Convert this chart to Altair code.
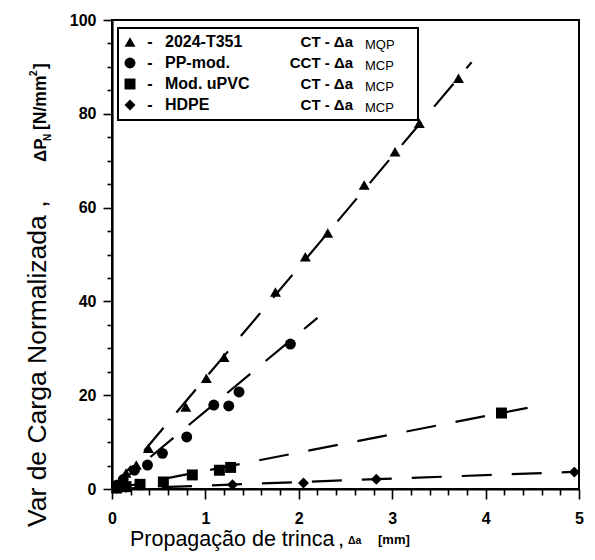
import altair as alt
import pandas as pd

# ---------------- data ----------------
series = ["2024-T351", "PP-mod.", "Mod. uPVC", "HDPE"]
specimen = ["CT - Δa", "CCT - Δa", "CT - Δa", "CT - Δa"]
method = ["MQP", "MCP", "MCP", "MCP"]
shapes = ["triangle-up", "circle", "square", "diamond"]

al_x = [0.05, 0.10, 0.15, 0.26, 0.39, 0.79, 1.01, 1.20, 1.75, 2.07, 2.31, 2.70, 3.03, 3.29, 3.71]
al_y = [1.0, 2.2, 3.4, 5.1, 8.7, 17.5, 23.6, 28.1, 42.0, 49.5, 54.6, 64.8, 71.9, 78.0, 87.6]

pp_x = [0.05, 0.12, 0.24, 0.38, 0.54, 0.80, 1.09, 1.25, 1.36, 1.91]
pp_y = [0.8, 2.0, 4.0, 5.1, 7.6, 11.1, 17.9, 17.7, 20.7, 30.9]

pvc_x = [0.05, 0.15, 0.30, 0.55, 0.86, 1.15, 1.27, 4.17]
pvc_y = [0.2, 0.5, 1.0, 1.5, 3.0, 4.0, 4.6, 16.2]

hd_x = [0.05, 0.15, 0.29, 1.29, 2.05, 2.83, 4.95]
hd_y = [0.1, 0.3, 0.8, 0.9, 1.3, 2.1, 3.6]

fit_end_x = [3.85, 2.20, 4.45, 5.0]
fit_end_y = [91.0, 36.5, 17.3, 3.7]

x_ticks = [round(i * 0.2, 1) for i in range(26)]
y_ticks = list(range(0, 101, 5))

# ---------------- tables ----------------
frames = []
for name, xs, ys in zip(series, [al_x, pp_x, pvc_x, hd_x], [al_y, pp_y, pvc_y, hd_y]):
    frames.append(pd.DataFrame({"x": xs, "y": ys, "s": name}))
pts_df = pd.concat(frames, ignore_index=True)

fit_rows = []
for name, ex, ey in zip(series, fit_end_x, fit_end_y):
    fit_rows.append({"x": 0.0, "y": 0.0, "s": name})
    fit_rows.append({"x": ex, "y": ey, "s": name})
fit_df = pd.DataFrame(fit_rows)

FONT = "Liberation Sans"

xscale = alt.Scale(domain=[0, 5], nice=False, zero=True)
yscale = alt.Scale(domain=[0, 100], nice=False)

is_int_x = "abs(datum.value - round(datum.value)) < 0.001"
x_axis = alt.Axis(
    title=None, values=x_ticks, grid=False,
    labelExpr=f"{is_int_x} ? format(round(datum.value), 'd') : ''",
    labelOverlap=False, labelBound=False, labelFlush=False,
    labelFont=FONT, labelFontSize=16, labelFontWeight="bold", labelColor="black",
    labelPadding=11,
    tickSize={"condition": {"test": is_int_x, "value": 10}, "value": 6},
    tickColor="black", tickWidth=1.6,
    domainColor="black", domainWidth=2.2,
)
is_major_y = "datum.value % 20 === 0"
y_axis = alt.Axis(
    title=None, values=y_ticks, grid=False,
    labelExpr=f"{is_major_y} ? format(datum.value, 'd') : ''",
    labelOverlap=False, labelBound=False, labelFlush=False,
    labelFont=FONT, labelFontSize=16, labelFontWeight="bold", labelColor="black",
    labelPadding=7,
    tickSize={"condition": {"test": is_major_y, "value": 9}, "value": 5},
    tickColor="black", tickWidth=1.6,
    domainColor="black", domainWidth=2.2,
)

shape_scale = alt.Scale(domain=series, range=shapes)

fit = alt.Chart(fit_df).mark_line(
    color="black", strokeWidth=2.2, strokeDash=[30, 20]
).encode(
    x=alt.X("x:Q", scale=xscale, axis=x_axis),
    y=alt.Y("y:Q", scale=yscale, axis=y_axis),
    detail="s:N",
)

pts = alt.Chart(pts_df).mark_point(
    filled=True, color="black", opacity=1, size=120
).encode(
    x=alt.X("x:Q", scale=xscale, axis=x_axis),
    y=alt.Y("y:Q", scale=yscale, axis=y_axis),
    shape=alt.Shape("s:N", scale=shape_scale, legend=None),
)

one = pd.DataFrame({"k": [0]})

def txt(text, x, y, size, weight="bold", align="left", baseline="middle", angle=0):
    return alt.Chart(one).mark_text(
        text=text, font=FONT, fontSize=size, fontWeight=weight, color="black",
        align=align, baseline=baseline, angle=angle,
    ).encode(x=alt.value(x), y=alt.value(y))

layers = [fit, pts]

# legend box
box = alt.Chart(one).mark_rect(fill="white", stroke="black", strokeWidth=2).encode(
    x=alt.value(6), x2=alt.value(306), y=alt.value(8), y2=alt.value(100)
)
layers.append(box)

rows_y = [22, 43, 64, 85]
for i in range(4):
    ry = rows_y[i]
    layers.append(
        alt.Chart(one).mark_point(filled=True, color="black", opacity=1, size=120,
                                  shape=shapes[i]).encode(x=alt.value(18), y=alt.value(ry))
    )
    layers.append(txt("-", 38, ry, 16, align="center"))
    layers.append(txt(series[i], 53, ry, 16))
    layers.append(txt(specimen[i], 241, ry, 15, align="right"))
    layers.append(txt(method[i], 253, ry + 3, 13, weight="normal"))

# x axis title
layers.append(txt("Propagação de trinca", 18, 526, 21.5, weight="normal", baseline="alphabetic"))
layers.append(txt(",", 227, 526, 15, baseline="alphabetic"))
layers.append(txt("Δa", 236, 524, 10.5, baseline="alphabetic"))
layers.append(txt("[mm]", 266, 524, 13, baseline="alphabetic"))

# y axis title (rotated)
bx = -66
layers.append(txt("Var de Carga Normalizada ,", bx, 507, 26.5, weight="normal",
                  baseline="alphabetic", angle=270))
layers.append(txt("ΔP", bx, 142, 17, baseline="alphabetic", angle=270))
layers.append(txt("N", bx + 5, 121, 10, baseline="alphabetic", angle=270))
layers.append(txt("[N/mm", bx, 110, 17.5, baseline="alphabetic", angle=270))
layers.append(txt("2", bx - 9, 56, 10, baseline="alphabetic", angle=270))
layers.append(txt("]", bx, 49, 17.5, baseline="alphabetic", angle=270))

chart = alt.layer(*layers).properties(
    width=467, height=469,
    autosize="none",
    padding={"left": 104, "top": 12, "right": 8, "bottom": 62},
    background="white",
).configure_view(stroke="black", strokeWidth=2).configure_axis(labelOverlap=False)

chart.save("out.html", embed_options={"renderer": "svg", "actions": False})
